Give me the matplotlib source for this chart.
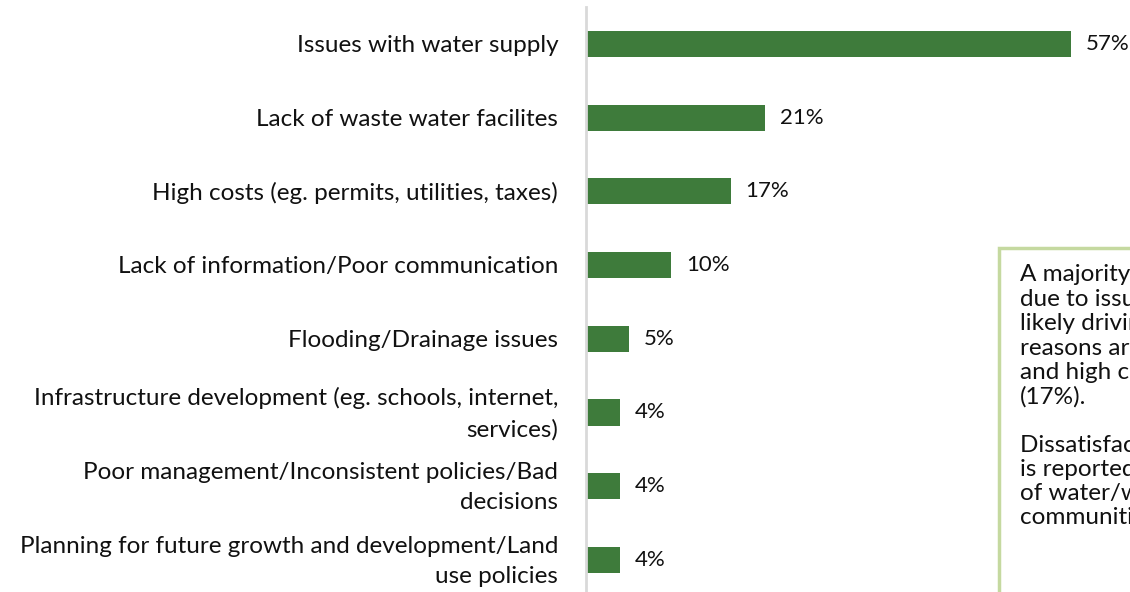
import matplotlib
matplotlib.use("Agg")
import matplotlib.pyplot as plt
from matplotlib.patches import Rectangle
from matplotlib.transforms import ScaledTranslation

categories = [
    "Issues with water supply",
    "Lack of waste water facilites",
    "High costs (eg. permits, utilities, taxes)",
    "Lack of information/Poor communication",
    "Flooding/Drainage issues",
    "Infrastructure development (eg. schools, internet,\nservices)",
    "Poor management/Inconsistent policies/Bad\ndecisions",
    "Planning for future growth and development/Land\nuse policies",
]
values = [57, 21, 17, 10, 5, 4, 4, 4]
value_labels = ["57%", "21%", "17%", "10%", "5%", "4%", "4%", "4%"]

note_lines = [
    "A majority of dissatisfaction is",
    "due to issues with water supply,",
    "likely driving the other top",
    "reasons around waste water (21%)",
    "and high costs",
    "(17%).",
    "",
    "Dissatisfaction with water supply",
    "is reported by residents",
    "of water/wastewater",
    "communities",
]

plt.rcParams['font.family'] = ['Lato', 'DejaVu Sans']

W, H = 1130, 592
fig = plt.figure(figsize=(W / 100, H / 100), dpi=100)

bar_color = "#3e7b3b"
text_color = "#111111"
step = 73.7
n = len(categories)
ax_top = 44 - step / 2
ax_bottom = ax_top + n * step
left = 586
ax = fig.add_axes([left / W, 1 - ax_bottom / H, (W - left) / W, (ax_bottom - ax_top) / H])
ppu = 485 / 57.0
ax.set_xlim(0, (W - left) / ppu)
ax.set_ylim(n - 0.5, -0.5)

ypos = list(range(n))
ax.barh(ypos, values, height=0.355, color=bar_color)
for y, v, lab in zip(ypos, values, value_labels):
    ax.text(v + 15 / ppu, y, lab, va="center", ha="left", fontsize=16, color=text_color)

ax.set_yticks(ypos)
ax.set_yticklabels(categories, fontsize=17.5, color=text_color, linespacing=1.55,
                   ha="right", va="center")
ax.tick_params(axis="y", length=0, pad=20)
shift = ScaledTranslation(0, -1.5 / 100, fig.dpi_scale_trans)
for lbl in ax.get_yticklabels():
    lbl.set_transform(lbl.get_transform() + shift)
ax.set_xticks([])
for s in ["top", "right", "bottom"]:
    ax.spines[s].set_visible(False)
ax.spines["left"].set_color("#d9d9d9")
ax.spines["left"].set_linewidth(2)

# note box
bx, by = 999, 248
fig.patches.append(Rectangle((bx / W, -0.1), (W - bx + 50) / W, (H - by) / H + 0.1,
                             transform=fig.transFigure, facecolor="white",
                             edgecolor="#c5d9a0", linewidth=2.5, zorder=5))
for i, line in enumerate(note_lines):
    fig.text(1020 / W, 1 - (275 + 24.3 * i) / H, line, fontsize=17.5, color=text_color,
             va="center", ha="left", zorder=6)

fig.savefig("out.png", dpi=100)
